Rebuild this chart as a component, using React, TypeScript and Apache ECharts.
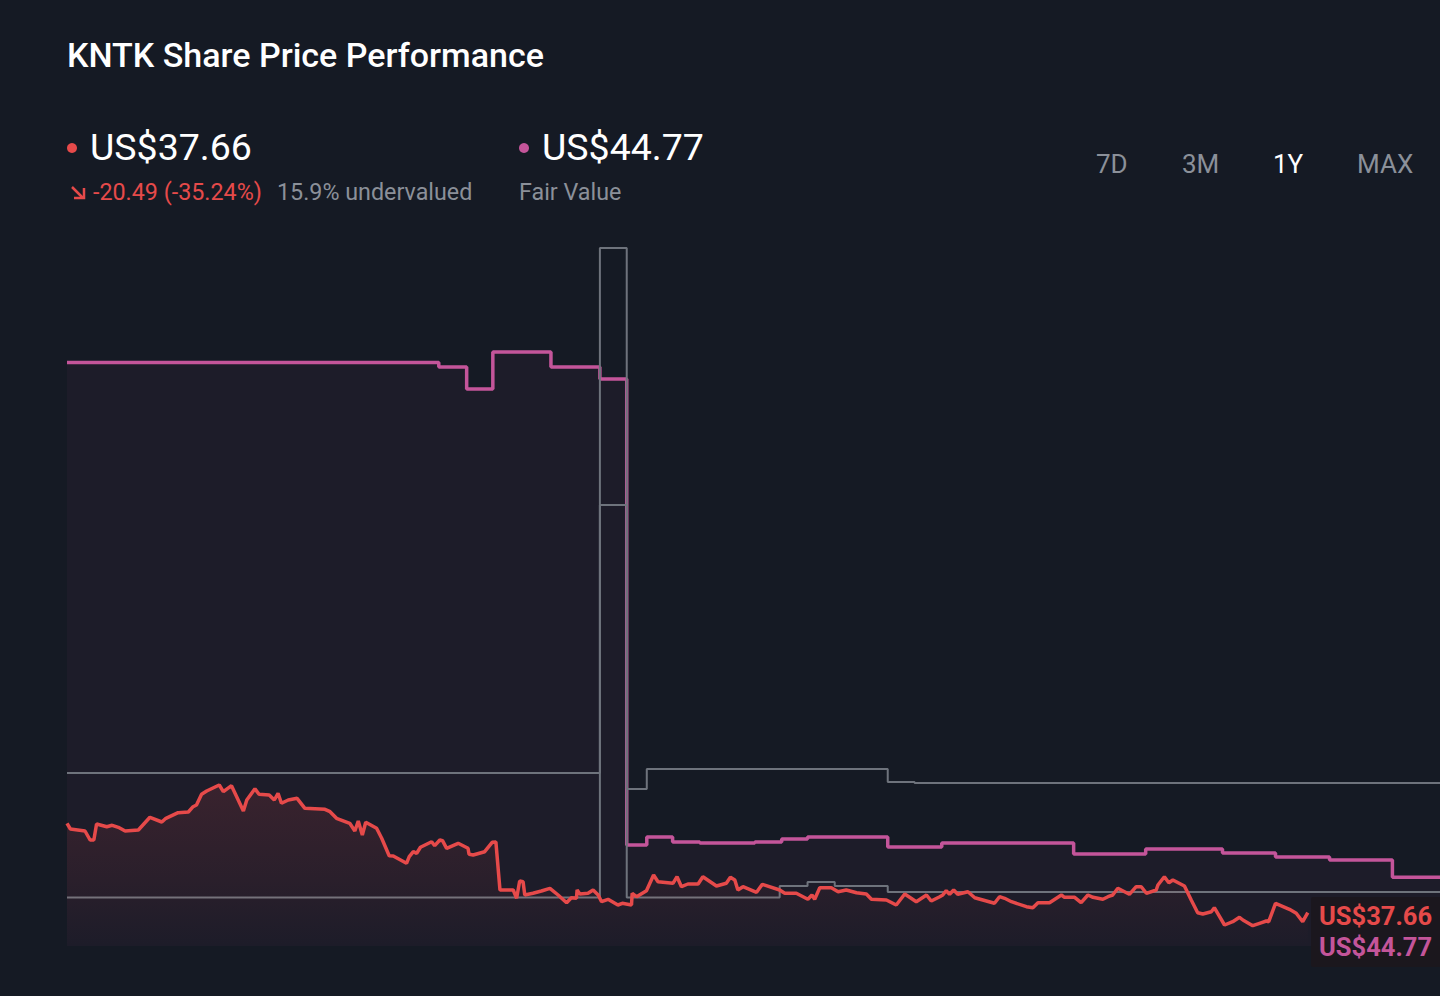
import React, { useEffect, useRef } from "react";
import * as echarts from "echarts";

// Days since the start of the 1Y window and closing share price (US$)
const priceDays = [
  0, 1, 5.3, 6.8, 7.9, 8.7, 11.7, 13.3, 15.1, 17.1, 21.0, 24.4, 27.9, 29.1, 32.7, 35.7, 37.1, 38.1, 39.6, 41.1,
  44.8, 46.0, 48.4, 51.9, 52.9, 55.3, 56.5, 59.5, 61.0, 62.1, 63.1, 65.1, 67.7, 70.0, 75.9, 77.4, 79.3, 83.2, 84.7, 85.7,
  86.9, 87.9, 91.1, 92.6, 94.8, 96.0, 99.9, 100.7, 101.9, 102.9, 104.0, 107.3, 108.2, 109.7, 110.5, 111.7, 115.1, 118.0, 118.3, 119.5,
  122.9, 125.1, 126.2, 127.4, 131.3, 132.3, 133.2, 134.2, 134.7, 137.1, 139.6, 142.1, 144.5, 147.0, 148.4, 149.9, 150.1, 150.9, 153.3, 154.8,
  156.3, 157.3, 159.2, 162.1, 163.4, 166.1, 166.3, 167.6, 170.5, 172.6, 173.9, 178.3, 179.5, 180.8, 182.7, 185.7, 187.1, 191.1, 194.0, 195.2,
  196.5, 197.4, 198.9, 202.9, 204.6, 209.7, 211.2, 214.6, 218.0, 219.2, 220.0, 221.5, 224.9, 226.9, 229.3, 232.3, 235.2, 236.7, 241.1, 244.0,
  246.5, 249.9, 252.9, 254.3, 256.8, 257.7, 258.7, 259.7, 260.9, 262.1, 265.1, 267.1, 272.9, 274.4, 275.9, 277.9, 282.3, 284.2, 285.7, 289.1,
  292.6, 293.5, 296.5, 298.4, 300.4, 301.9, 304.8, 306.3, 307.7, 309.2, 312.6, 314.6, 316.1, 317.6, 320.5, 321.0, 322.9, 324.2, 325.4, 328.8,
  330.8, 332.7, 334.2, 336.7, 337.6, 340.6, 343.0, 345.0, 346.0, 348.9, 350.9, 352.9, 353.6, 355.6, 359.7, 361.7, 363.6, 365.1,
];
const prices = [
  55.54, 54.4, 54.0, 52.2, 52.2, 55.4, 54.86, 55.14, 54.74, 54.0, 54.2, 56.74, 55.8, 56.54, 57.66, 57.8, 58.86, 59.2, 61.34, 62.0,
  63.2, 61.86, 63.06, 58.0, 60.2, 62.46, 61.34, 61.2, 60.2, 61.54, 59.54, 60.2, 60.54, 58.54, 58.34, 57.86, 56.54, 55.54, 54.0, 56.0,
  53.2, 55.74, 54.54, 52.54, 49.06, 49.0, 47.54, 48.86, 49.86, 49.54, 50.74, 51.86, 51.06, 52.2, 52.06, 50.54, 51.54, 50.54, 49.34, 49.2,
  49.86, 51.74, 51.8, 42.2, 42.2, 40.54, 44.0, 43.86, 41.2, 41.54, 42.0, 42.54, 41.2, 39.66, 40.66, 40.54, 42.2, 41.4, 41.54, 42.2,
  41.2, 39.86, 40.34, 39.2, 39.54, 39.2, 41.54, 40.86, 42.06, 45.2, 43.86, 43.54, 44.86, 42.86, 43.4, 43.4, 44.86, 43.0, 43.54, 44.74,
  44.2, 42.2, 42.86, 41.74, 43.34, 42.2, 41.54, 41.54, 40.34, 41.2, 40.34, 42.66, 42.66, 41.86, 42.2, 41.66, 41.4, 40.34, 40.2, 39.2,
  41.4, 39.86, 41.2, 40.0, 40.86, 41.2, 42.06, 41.34, 42.2, 41.34, 41.86, 40.66, 39.54, 40.86, 40.54, 39.86, 38.86, 38.66, 39.66, 39.66,
  41.2, 40.74, 40.74, 39.66, 41.2, 40.74, 40.34, 40.86, 41.2, 42.54, 41.34, 42.86, 42.86, 41.54, 42.2, 43.2, 44.86, 43.66, 44.2, 43.0,
  40.2, 37.66, 37.4, 37.86, 38.66, 35.2, 35.86, 36.74, 36.2, 35.06, 35.54, 36.0, 35.86, 39.54, 38.34, 37.54, 35.86, 37.66,
];

// Fair value estimate (step changes), US$
const fairValueDays = [0, 109.4, 117.6, 125.3, 142.4, 156.8, 164.7, 170.6, 178.2, 186.2, 202.4, 210.3, 217.9, 241.5, 257.4, 296.2, 317.4, 340.0, 355.6, 371.5, 390.0, 404];
const fairValues = [147.7, 146.8, 142.4, 149.8, 146.8, 144.4, 51.2, 52.8, 51.8, 51.6, 51.8, 52.4, 52.8, 50.8, 51.6, 49.4, 50.4, 49.6, 48.8, 48.2, 44.77, 44.77];

// Analyst estimate range (upper / lower), US$
const rangeHighDays = [0, 156.8, 164.7, 170.6, 241.5, 249.4, 404];
const rangeHigh = [65.6, 170.6, 62.4, 66.4, 63.8, 63.6, 63.6];
const rangeLowDays = [0, 156.8, 164.7, 209.7, 217.9, 225.9, 241.5, 404];
const rangeLow = [40.7, 119.2, 40.7, 43.0, 43.8, 43.0, 41.8, 41.8];

const rangeButtons = ["7D", "3M", "1Y", "MAX"];
const activeRange = "1Y";

const currentPrice = "US$37.66";
const fairValueText = "US$44.77";
const changeText = "-20.49 (-35.24%)";
const valuationText = "15.9% undervalued";

const BG = "#151a24";
const RED = "#e64a4a";
const PINK = "#c4559a";
const GRAY = "#6e737c";
const MUTED = "#8b9099";
const FONT = "Roboto, 'Noto Sans', sans-serif";

const pairs = (xs: number[], ys: number[]) => xs.map((x, i) => [x, ys[i]]);

export default function App() {
  const ref = useRef<HTMLDivElement>(null);

  useEffect(() => {
    if (!ref.current) return;
    const chart = echarts.init(ref.current, undefined, { renderer: "svg" });

    const buttonX = [1096, 1182, 1273, 1357];

    const option: any = {
      animation: false,
      backgroundColor: BG,
      grid: { left: 67, right: 0, top: 246, bottom: 50, containLabel: false },
      xAxis: { type: "value", min: 0, max: 404, show: false },
      yAxis: { type: "value", min: 31, max: 171, show: false, splitLine: { show: false } },
      series: [
        {
          type: "line",
          name: "Fair Value",
          step: "end",
          data: pairs(fairValueDays, fairValues),
          symbol: "none",
          lineStyle: { color: PINK, width: 3.5 },
          areaStyle: { color: "rgba(196,85,154,0.065)" },
          z: 2,
        },
        {
          type: "line",
          name: "High",
          step: "end",
          data: pairs(rangeHighDays, rangeHigh),
          symbol: "none",
          lineStyle: { color: GRAY, width: 2 },
          z: 3,
        },
        {
          type: "line",
          name: "Low",
          step: "end",
          data: pairs(rangeLowDays, rangeLow),
          symbol: "none",
          lineStyle: { color: GRAY, width: 2 },
          z: 3,
        },
        {
          type: "line",
          name: "Price",
          data: pairs(priceDays, prices),
          symbol: "none",
          lineStyle: { color: RED, width: 3.5 },
          areaStyle: {
            color: new echarts.graphic.LinearGradient(0, 0, 0, 1, [
              { offset: 0, color: "rgba(230,74,74,0.2)" },
              { offset: 0.6, color: "rgba(230,74,74,0.09)" },
              { offset: 1, color: "rgba(230,74,74,0)" },
            ]),
          },
          z: 4,
        },
      ],
      graphic: [
        {
          type: "text",
          x: 67,
          y: 55,
          style: {
            text: "KNTK Share Price Performance",
            fill: "#ffffff",
            font: `500 34px ${FONT}`,
            verticalAlign: "middle",
          },
        },
        { type: "circle", shape: { cx: 72, cy: 148, r: 5 }, style: { fill: RED } },
        {
          type: "text",
          x: 90,
          y: 147,
          style: { text: currentPrice, fill: "#ffffff", font: `400 37.5px ${FONT}`, verticalAlign: "middle" },
        },
        { type: "circle", shape: { cx: 524, cy: 148, r: 5 }, style: { fill: PINK } },
        {
          type: "text",
          x: 542,
          y: 147,
          style: { text: fairValueText, fill: "#ffffff", font: `400 37.5px ${FONT}`, verticalAlign: "middle" },
        },
        {
          type: "polyline",
          shape: { points: [[72, 187], [83, 198]] },
          style: { stroke: RED, lineWidth: 2.5, fill: null },
        },
        {
          type: "polyline",
          shape: { points: [[84, 188], [84, 198], [74, 198]] },
          style: { stroke: RED, lineWidth: 2.5, fill: null },
        },
        {
          type: "text",
          x: 93,
          y: 192,
          style: { text: changeText, fill: RED, font: `400 23.3px ${FONT}`, verticalAlign: "middle" },
        },
        {
          type: "text",
          x: 277,
          y: 192,
          style: { text: valuationText, fill: MUTED, font: `400 23.3px ${FONT}`, verticalAlign: "middle" },
        },
        {
          type: "text",
          x: 519,
          y: 192,
          style: { text: "Fair Value", fill: MUTED, font: `400 23.3px ${FONT}`, verticalAlign: "middle" },
        },
        ...rangeButtons.map((b, i) => ({
          type: "text",
          x: buttonX[i],
          y: 164,
          style: {
            text: b,
            fill: b === activeRange ? "#ffffff" : MUTED,
            font: `400 26px ${FONT}`,
            verticalAlign: "middle",
          },
        })),
        {
          type: "rect",
          shape: { x: 1311, y: 897, width: 140, height: 70, r: 2 },
          style: { fill: "rgba(27,23,30,0.95)" },
          z: 10,
        },
        {
          type: "text",
          x: 1319,
          y: 916,
          z: 11,
          style: { text: currentPrice, fill: RED, font: `700 25.5px ${FONT}`, verticalAlign: "middle" },
        },
        {
          type: "text",
          x: 1319,
          y: 947,
          z: 11,
          style: { text: fairValueText, fill: PINK, font: `700 25.5px ${FONT}`, verticalAlign: "middle" },
        },
      ],
    };

    chart.setOption(option);
    return () => chart.dispose();
  }, []);

  return (
    <div
      ref={ref}
      style={{ position: "fixed", left: 0, top: 0, width: 1440, height: 996, background: BG }}
    />
  );
}
